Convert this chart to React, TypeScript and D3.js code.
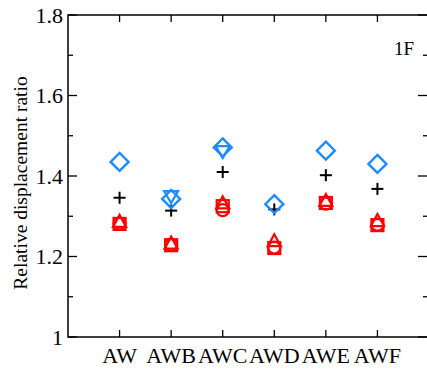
import React from "react";
import * as d3 from "d3";

const categories = ["AW", "AWB", "AWC", "AWD", "AWE", "AWF"];
const blueDiamond = [1.435, 1.343, 1.471, 1.33, 1.463, 1.43];
const blueTriangleDown = [null, 1.35, 1.462, null, null, null];
const blackPlus = [1.346, 1.314, 1.41, 1.317, 1.402, 1.368];
const redSquare = [1.281, 1.228, 1.325, 1.221, 1.333, 1.278];
const redCircle = [1.282, 1.229, 1.315, 1.222, 1.331, 1.279];
const redTriangle = [1.286, 1.232, 1.332, 1.238, 1.338, 1.288];
const yMajorTicks = [1, 1.2, 1.4, 1.6, 1.8];
const yMinorTicks = [1.1, 1.3, 1.5, 1.7];
const yTickLabels = ["1", "1.2", "1.4", "1.6", "1.8"];
const panelLabel = "1F";
const yTitle = "Relative displacement ratio";

const W = 427, H = 372;
const left = 68, right = 429, top = 15, bottom = 337;
const BLUE = "#1E8CFF";
const RED = "#FF0000";
const FONT = "'Liberation Serif', 'Times New Roman', serif";

export default function App() {
  const x = d3.scaleLinear().domain([0, 7]).range([left, right]);
  const y = d3.scaleLinear().domain([1, 1.8]).range([bottom, top]);
  const idx = categories.map((_, i) => i + 1);

  const diamond = (cx: number, cy: number) => {
    const s = 9;
    return `M${cx},${cy - s}L${cx + s},${cy}L${cx},${cy + s}L${cx - s},${cy}Z`;
  };
  const triDown = (cx: number, cy: number) =>
    `M${cx - 7},${cy - 5}L${cx + 7},${cy - 5}L${cx},${cy + 7}Z`;
  const triUp = (cx: number, cy: number) =>
    `M${cx - 6.5},${cy + 5}L${cx + 6.5},${cy + 5}L${cx},${cy - 7}Z`;

  return (
    <svg width={W} height={H} style={{ display: "block", position: "absolute", left: 0, top: 0 }}>
      <rect x={0} y={0} width={W} height={H} fill="#fff" />
      <rect x={left} y={top} width={right - left} height={bottom - top} fill="none" stroke="#000" strokeWidth={1.5} />
      {idx.map((v) => (
        <g key={"xt" + v}>
          <line x1={x(v)} x2={x(v)} y1={bottom} y2={bottom - 7} stroke="#000" strokeWidth={1.3} />
          <line x1={x(v)} x2={x(v)} y1={top} y2={top + 7} stroke="#000" strokeWidth={1.3} />
        </g>
      ))}
      {yMajorTicks.map((v) => (
        <g key={"ym" + v}>
          <line x1={left} x2={left + 9} y1={y(v)} y2={y(v)} stroke="#000" strokeWidth={1.3} />
          <line x1={right} x2={right - 11} y1={y(v)} y2={y(v)} stroke="#000" strokeWidth={1.3} />
        </g>
      ))}
      {yMinorTicks.map((v) => (
        <g key={"yn" + v}>
          <line x1={left} x2={left + 5} y1={y(v)} y2={y(v)} stroke="#000" strokeWidth={1.3} />
          <line x1={right} x2={right - 6} y1={y(v)} y2={y(v)} stroke="#000" strokeWidth={1.3} />
        </g>
      ))}
      {yMajorTicks.map((v, i) => (
        <text key={"yl" + v} x={left - 5} y={y(v) + 7.5} textAnchor="end" fontFamily={FONT} fontSize={22} fill="#000">
          {yTickLabels[i]}
        </text>
      ))}
      {idx.map((v, i) => (
        <text key={"xl" + v} x={x(v)} y={363} textAnchor="middle" fontFamily={FONT} fontSize={22} fill="#000">
          {categories[i]}
        </text>
      ))}
      <text
        transform={`translate(27,183) rotate(-90)`}
        textAnchor="middle"
        fontFamily={FONT}
        fontSize={19.5}
        fill="#000"
      >
        {yTitle}
      </text>
      <text x={414} y={55} textAnchor="end" fontFamily={FONT} fontSize={19} fill="#000">
        {panelLabel}
      </text>

      {redSquare.map((v, i) => (
        <rect key={"rs" + i} x={x(i + 1) - 6} y={y(v) - 6} width={12} height={12} fill="none" stroke={RED} strokeWidth={2.2} />
      ))}
      {redCircle.map((v, i) => (
        <circle key={"rc" + i} cx={x(i + 1)} cy={y(v)} r={6} fill="none" stroke={RED} strokeWidth={2.2} />
      ))}
      {redTriangle.map((v, i) => (
        <path key={"rt" + i} d={triUp(x(i + 1), y(v))} fill="none" stroke={RED} strokeWidth={2.2} />
      ))}
      {blackPlus.map((v, i) => (
        <g key={"bp" + i}>
          <line x1={x(i + 1) - 6} x2={x(i + 1) + 6} y1={y(v)} y2={y(v)} stroke="#000" strokeWidth={2} />
          <line x1={x(i + 1)} x2={x(i + 1)} y1={y(v) - 6} y2={y(v) + 6} stroke="#000" strokeWidth={2} />
        </g>
      ))}
      {blueTriangleDown.map((v, i) =>
        v == null ? null : (
          <path key={"bt" + i} d={triDown(x(i + 1), y(v))} fill="none" stroke={BLUE} strokeWidth={2.2} />
        )
      )}
      {blueDiamond.map((v, i) => (
        <path key={"bd" + i} d={diamond(x(i + 1), y(v))} fill="none" stroke={BLUE} strokeWidth={2.4} />
      ))}
    </svg>
  );
}
